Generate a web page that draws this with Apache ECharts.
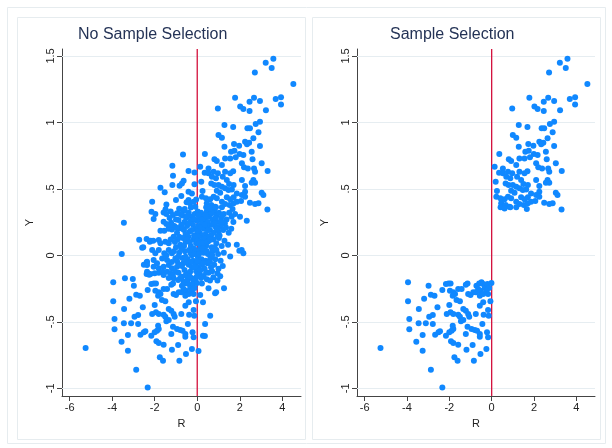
<!DOCTYPE html>
<html>
<head>
<meta charset="utf-8">
<script src="https://cdn.jsdelivr.net/npm/echarts@6/dist/echarts.min.js"></script>
<style>
html, body { margin: 0; padding: 0; background: #fff; }
#main { width: 612px; height: 448px; }
</style>
</head>
<body>
<div id="main"></div>
<script>
// 刻度
var xTicks = [-6, -4, -2, 0, 2, 4];
var yTicks = [-1, -0.5, 0, 0.5, 1, 1.5];
// 坐标轴范围
var xRange = [-6.36, 4.88];
var yRange = [-1.058, 1.552];

// 被选中的样本：R>0 上方
var upperPts = [
    [3.58,1.478],[3.22,1.448],[3.50,1.41],[2.71,1.376],[4.52,1.288],[3.94,1.19],[3.69,1.175],[3.94,1.135],
    [1.78,1.185],[2.67,1.185],[2.95,1.16],[2.46,1.155],[2.02,1.12],[2.17,1.10],[2.46,1.085],[3.23,1.092],
    [0.97,1.105],[2.95,1.005],[2.75,0.987],[2.36,0.955],[2.48,0.955],[1.28,0.98],[1.69,0.965],[2.88,0.925],
    [1.0,0.905],[1.16,0.885],[2.64,0.88],[2.25,0.854],[2.44,0.847],[2.34,0.835],[2.95,0.822],[1.73,0.837],
    [1.97,0.824],[1.28,0.817],[2.56,0.779],[1.59,0.779],[1.75,0.786],[0.36,0.762],[1.99,0.762],[2.17,0.754],
    [1.55,0.729],[0.81,0.722],[0.92,0.709],[1.31,0.729],[1.81,0.737],[2.60,0.722],[2.10,0.692],[3.03,0.692],
    [0.14,0.666],[0.53,0.654],[1.16,0.679],[2.20,0.662],[2.38,0.654],[2.67,0.654],[2.72,0.629],[3.31,0.634],
    [0.35,0.621],[0.53,0.617],[0.77,0.629],[0.97,0.617],[1.31,0.629],[1.55,0.617],[1.69,0.632],[0.69,0.591],
    [0.88,0.579],[1.20,0.591],[1.39,0.566],[2.10,0.566],[2.64,0.566],[2.72,0.546],[0.19,0.553],[0.66,0.541],
    [0.80,0.529],[1.0,0.529],[1.16,0.516],[1.50,0.536],[1.71,0.529],[2.25,0.521],[2.56,0.546],[1.31,0.504],
    [1.47,0.491],[1.63,0.496],[0.92,0.486],[1.08,0.471],[0.25,0.483],[3.03,0.471],[3.11,0.453],[1.86,0.466],
    [2.10,0.453],[2.25,0.478],[0.22,0.441],[0.41,0.429],[0.61,0.421],[0.77,0.441],[0.92,0.429],[1.39,0.436],
    [1.55,0.421],[1.71,0.436],[2.06,0.408],[2.25,0.441],[0.45,0.391],[0.66,0.378],[0.84,0.365],[1.16,0.403],
    [1.31,0.386],[1.52,0.378],[1.71,0.391],[1.86,0.403],[2.48,0.395],[2.72,0.386],[2.88,0.391],[0.42,0.361],
    [0.61,0.353],[0.88,0.361],[1.16,0.361],[1.66,0.348],[3.30,0.345]
];

// 被选中的样本：R<0 下方
var lowerPts = [
    [-3.95,-0.203],[-3.95,-0.346],[-3.89,-0.479],[-3.89,-0.556],[-5.25,-0.697],[-3.56,-0.65],[-3.45,-0.511],
    [-3.44,-0.404],[-3.26,-0.599],[-3.26,-0.717],[-3.19,-0.326],[-2.98,-0.228],[-2.95,-0.461],[-3.11,-0.511],
    [-2.87,-0.296],[-2.70,-0.304],[-2.78,-0.449],[-2.78,-0.516],[-2.87,-0.86],[-2.67,-0.597],[-2.51,-0.579],
    [-2.44,-0.571],[-2.56,-0.391],[-2.33,-0.261],[-2.33,-0.995],[-2.16,-0.216],[-2.04,-0.211],[-1.94,-0.211],
    [-2.12,-0.441],[-2.16,-0.604],[-2.0,-0.374],[-2.0,-0.579],[-1.89,-0.567],[-1.81,-0.554],[-1.94,-0.429],
    [-1.81,-0.441],[-1.84,-0.529],[-1.92,-0.647],[-1.81,-0.659],[-1.76,-0.767],[-1.61,-0.792],[-1.58,-0.672],
    [-1.97,-0.266],[-1.81,-0.278],[-1.73,-0.291],[-1.84,-0.304],[-1.66,-0.336],[-1.50,-0.346],[-1.58,-0.253],
    [-1.42,-0.253],[-1.58,-0.446],[-1.50,-0.461],[-1.34,-0.404],[-1.22,-0.416],[-1.45,-0.496],[-1.34,-0.486],
    [-1.22,-0.221],[-1.14,-0.211],[-1.11,-0.291],[-1.0,-0.298],[-0.87,-0.278],[-0.75,-0.278],[-1.11,-0.441],
    [-1.06,-0.461],[-1.22,-0.592],[-1.14,-0.537],[-1.19,-0.71],[-0.90,-0.674],[-0.84,-0.792],[-0.95,-0.554],
    [-0.80,-0.561],[-0.69,-0.567],[-0.75,-0.441],[-0.72,-0.228],[-0.59,-0.211],[-0.48,-0.203],[-0.40,-0.216],
    [-0.64,-0.253],[-0.53,-0.266],[-0.33,-0.246],[-0.56,-0.304],[-0.40,-0.291],[-0.56,-0.379],[-0.40,-0.353],
    [-0.44,-0.516],[-0.56,-0.592],[-0.56,-0.612],[-0.53,-0.742],[-0.38,-0.446],[-0.25,-0.704],[-0.22,-0.579],
    [-0.17,-0.617],[-0.17,-0.411],[-0.14,-0.454],[-0.20,-0.216],[-0.12,-0.246],[-0.25,-0.266],[-0.17,-0.291],
    [-0.06,-0.346],[-0.01,-0.208]
];

// 未被选中的样本（只出现在左图）
var droppedPts = [
    [-0.67,0.759],[-1.17,0.674],[-1.14,0.599],[-0.41,0.634],[-0.13,0.624],[-0.64,0.561],[-0.72,0.541],
    [-0.13,0.534],[-1.17,0.529],[-0.83,0.523],[-1.73,0.508],[-1.53,0.474],[-0.41,0.478],[-0.25,0.466],
    [-0.75,0.446],[-1.0,0.416],[-2.12,0.403],[-1.45,0.383],[-0.41,0.416],[-0.34,0.391],[-0.17,0.403],
    [-0.59,0.348],[-0.09,0.365],[-0.63,0.335],[-1.49,0.346],[-0.85,0.35],[-0.30,0.36],[-0.50,0.40],
    [-0.05,0.42],[-1.25,0.33],
    [-2.15,0.328],[-1.58,0.323],[-1.97,0.311],[-1.45,0.311],[-1.14,0.303],[-0.95,0.316],[-2.05,0.273],
    [-1.58,0.253],[-1.45,0.235],[-1.23,0.245],[-0.88,0.265],[-0.70,0.30],[-0.52,0.28],[-0.40,0.32],
    [-0.25,0.29],[-0.12,0.31],[0.02,0.33],[0.10,0.28],[0.18,0.32],[0.28,0.30],[0.36,0.27],[0.45,0.33],
    [0.55,0.29],[0.62,0.31],[0.72,0.27],[0.80,0.33],[0.90,0.30],[1.02,0.32],[1.12,0.28],[1.25,0.31],
    [1.38,0.27],[1.50,0.32],[1.62,0.29],[1.78,0.31],[2.01,0.29],[2.33,0.26],
    [-0.60,0.25],[-0.30,0.26],[0.00,0.26],[0.50,0.25],[0.95,0.25],[1.30,0.24],[1.70,0.25],
    [-1.30,0.28],[-1.00,0.27],[-0.80,0.31],[-0.45,0.30],[-0.15,0.27],[0.06,0.30],[0.24,0.27],[0.40,0.30],
    [0.68,0.32],[0.85,0.28],[1.18,0.30],
    [-1.08,0.22],[-1.19,0.195],[-1.73,0.185],[-1.55,0.185],[-0.88,0.203],[-0.75,0.23],[-0.62,0.19],
    [-0.48,0.22],[-0.35,0.18],[-0.20,0.23],[-0.08,0.20],[0.05,0.22],[0.12,0.17],[0.22,0.24],[0.32,0.20],
    [0.40,0.16],[0.48,0.22],[0.60,0.19],[0.70,0.23],[0.78,0.17],[0.88,0.21],[1.00,0.18],[1.10,0.22],
    [1.22,0.19],[1.35,0.21],[1.48,0.17],[1.60,0.20],[-0.95,0.17],[-0.55,0.16],[-0.15,0.15],[0.25,0.15],
    [0.65,0.15],[1.05,0.15],
    [-1.35,0.20],[-1.20,0.23],[-0.98,0.21],[-0.70,0.20],[-0.40,0.24],[-0.25,0.19],[0.00,0.18],[0.17,0.21],
    [0.36,0.23],[0.52,0.19],[0.82,0.24],[0.95,0.20],[1.18,0.25],
    [-2.73,0.117],[-2.38,0.122],[-2.19,0.11],[-2.23,0.102],[-2.07,0.11],[-1.81,0.115],[-1.73,0.09],
    [-1.50,0.102],[-1.34,0.09],[-1.11,0.14],[-0.92,0.12],[-2.54,0.06],[-0.80,0.08],[-0.68,0.13],
    [-0.55,0.10],[-0.42,0.14],[-0.30,0.07],[-0.18,0.12],[-0.05,0.09],[0.05,0.14],[0.15,0.06],[0.22,0.11],
    [0.35,0.13],[0.42,0.07],[0.55,0.11],[0.68,0.06],[0.75,0.12],[0.90,0.09],[1.02,0.13],[1.15,0.07],
    [1.28,0.11],[1.45,0.08],[1.86,0.08],[-1.00,0.06],[-0.15,0.05],[0.30,0.05],[0.58,0.14],
    [-1.25,0.12],[-1.05,0.10],[-0.85,0.14],[-0.62,0.07],[-0.48,0.12],[-0.35,0.10],[-0.10,0.14],[0.00,0.11],
    [0.10,0.09],[0.28,0.09],[0.48,0.10],[0.62,0.12],[0.82,0.06],[0.95,0.14],
    [-3.45,0.245],[-3.55,0.01],[-2.59,0.057],[-2.12,0.04],[-1.97,0.015],[-1.81,0.04],[-1.55,0.015],
    [-1.34,0.04],[-1.19,0.015],[-1.03,-0.023],[-1.65,-0.023],[-1.42,-0.035],[-2.05,-0.035],[-2.38,-0.053],
    [-0.85,0.02],[-0.70,-0.02],[-0.58,0.03],[-0.45,-0.03],[-0.32,0.02],[-0.20,-0.04],[-0.08,0.03],
    [0.03,-0.01],[0.12,0.04],[0.20,-0.03],[0.30,0.02],[0.40,-0.04],[0.50,0.01],[0.62,-0.02],[0.72,0.03],
    [0.85,-0.03],[0.98,0.01],[1.10,-0.04],[1.25,0.02],[1.55,-0.008],[1.98,0.035],[2.17,0.015],[2.09,0.04],
    [-0.95,-0.045],[0.10,-0.05],
    [-1.45,0.00],[-1.10,0.03],[-0.90,-0.01],[-0.75,0.05],[-0.55,-0.01],[-0.38,0.04],[-0.25,0.00],[-0.12,0.01],
    [0.08,0.01],[0.25,0.05],[0.45,0.03],[0.70,0.00],[0.90,0.04],
    [-2.51,-0.07],[-2.36,-0.048],[-2.36,-0.073],[-1.89,-0.06],[-2.05,-0.086],[-1.81,-0.098],[-1.58,-0.086],
    [-1.34,-0.073],[-1.19,-0.098],[-0.95,-0.086],[-2.36,-0.123],[-2.20,-0.141],[-1.81,-0.131],[-1.42,-0.123],
    [-1.26,-0.135],[-1.03,-0.123],[-2.38,-0.141],[-2.26,-0.146],[-2.00,-0.135],[-1.62,-0.123],[-1.58,-0.148],
    [-0.88,-0.131],[-0.72,-0.08],[-0.60,-0.11],[-0.48,-0.135],[-0.33,-0.123],[-0.40,-0.07],[-0.25,-0.09],
    [-0.10,-0.06],[-0.05,-0.12],[0.05,-0.09],[0.11,-0.135],[0.20,-0.07],[0.30,-0.156],[0.35,-0.10],
    [0.53,-0.131],[0.48,-0.06],[0.65,-0.09],[0.76,-0.165],[0.80,-0.07],[0.95,-0.135],[1.08,-0.158],
    [1.00,-0.10],[1.20,-0.08],[-0.65,-0.06],
    [-1.20,-0.05],[-0.82,-0.07],[-0.52,-0.05],[-0.30,-0.05],[-0.15,-0.09],[0.00,-0.04],[0.15,-0.11],
    [0.28,-0.06],[0.42,-0.13],[0.60,-0.05],[0.70,-0.12],
    [-3.40,-0.173],[-3.03,-0.178],[-1.11,-0.173],[-0.72,-0.161],[-0.25,-0.173],[-0.64,-0.198],[-0.17,-0.198],
    [-0.09,-0.186],[-1.34,-0.17],[-0.90,-0.185],[-0.45,-0.18],
    [-1.15,-0.15],[-0.80,-0.17],[-0.55,-0.15],[-0.35,-0.16],[-0.02,-0.16],[0.18,-0.17],[0.45,-0.18],
    [0.60,-0.19],[0.95,-0.19],
    [0.22,-0.211],[0.53,-0.248],[0.84,-0.286],[0.14,-0.298],[1.26,-0.248],[0.89,-0.278],[0.27,-0.353],
    [0.61,-0.454],[0.37,-0.516],[0.27,-0.604],[0.36,-0.607],[0.06,-0.72]
];

var allPts = droppedPts.concat(upperPts, lowerPts);
var selectedPts = upperPts.concat(lowerPts);
// R=0 的竖线，从 y 轴底到顶
var zeroLine = [[0, yRange[0]], [0, yRange[1]]];

var dotColor = '#1088ff';
var redColor = '#d3103c';
var font = 'Liberation Sans, Arial, sans-serif';

function yLabel(v) {
    if (v == 0.5) return '.5';
    if (v == -0.5) return '-.5';
    return String(v);
}

function makeX(idx) {
    return {
        type: 'value', gridIndex: idx, min: xRange[0], max: xRange[1],
        name: 'R', nameLocation: 'middle', nameGap: 22,
        nameTextStyle: { fontFamily: font, fontSize: 11, color: '#222' },
        axisLine: { onZero: false, lineStyle: { color: '#444', width: 1 } },
        axisTick: { length: 5, customValues: xTicks, lineStyle: { color: '#444' } },
        axisLabel: { customValues: xTicks, margin: 6, fontFamily: font, fontSize: 11, color: '#222' },
        splitLine: { show: false }
    };
}

function makeY(idx) {
    return {
        type: 'value', gridIndex: idx, min: yRange[0], max: yRange[1],
        name: 'Y', nameLocation: 'middle', nameGap: 27, nameRotate: 90,
        nameTextStyle: { fontFamily: font, fontSize: 11, color: '#222' },
        axisLine: { onZero: false, lineStyle: { color: '#444', width: 1 } },
        axisTick: { length: 5, customValues: yTicks, lineStyle: { color: '#444' } },
        axisLabel: { customValues: yTicks, rotate: 90, margin: 6, formatter: yLabel,
            fontFamily: font, fontSize: 11, color: '#222' },
        splitLine: { show: false }
    };
}

// 横向网格线，放在点的下面
function gridSeries(idx) {
    return {
        type: 'scatter', xAxisIndex: idx, yAxisIndex: idx, data: [], z: 1, silent: true,
        markLine: {
            z: 1, symbol: 'none', silent: true, animation: false, label: { show: false },
            lineStyle: { color: '#e6edf1', width: 1, type: 'solid' },
            data: yTicks.map(function (v) { return { yAxis: v }; })
        }
    };
}

// R=0 处的红线
function zeroSeries(idx) {
    return {
        type: 'line', xAxisIndex: idx, yAxisIndex: idx, data: zeroLine, z: 2, silent: true,
        symbol: 'none', showSymbol: false,
        lineStyle: { color: redColor, width: 1.3, opacity: 1 },
        emphasis: { disabled: true }
    };
}

function dotSeries(idx, pts) {
    return {
        type: 'scatter', xAxisIndex: idx, yAxisIndex: idx, z: 3,
        symbolSize: 6, data: pts,
        itemStyle: { color: dotColor, opacity: 1 }
    };
}

var option = {
    animation: false,
    backgroundColor: '#fff',
    graphic: [
        { type: 'rect', shape: { x: 7.5, y: 7.5, width: 598, height: 436 }, style: { fill: 'none', stroke: '#e6ecef' }, z: -1 },
        { type: 'rect', shape: { x: 17.5, y: 17.5, width: 288, height: 422 }, style: { fill: 'none', stroke: '#e6ecef' }, z: -1 },
        { type: 'rect', shape: { x: 312.5, y: 17.5, width: 288, height: 422 }, style: { fill: 'none', stroke: '#e6ecef' }, z: -1 }
    ],
    title: [
        { text: 'No Sample Selection', left: 78, top: 27, padding: 0,
          textStyle: { fontFamily: font, fontSize: 16, fontWeight: 'normal', color: '#243356' } },
        { text: 'Sample Selection', left: 390, top: 27, padding: 0,
          textStyle: { fontFamily: font, fontSize: 16, fontWeight: 'normal', color: '#243356' } }
    ],
    grid: [
        { left: 62, top: 49, width: 239, height: 347 },
        { left: 357, top: 49, width: 238, height: 347 }
    ],
    xAxis: [makeX(0), makeX(1)],
    yAxis: [makeY(0), makeY(1)],
    series: [
        gridSeries(0), gridSeries(1),
        zeroSeries(0), zeroSeries(1),
        dotSeries(0, allPts), dotSeries(1, selectedPts)
    ]
};

var myChart = echarts.init(document.getElementById('main'));
myChart.setOption(option);
</script>
</body>
</html>
